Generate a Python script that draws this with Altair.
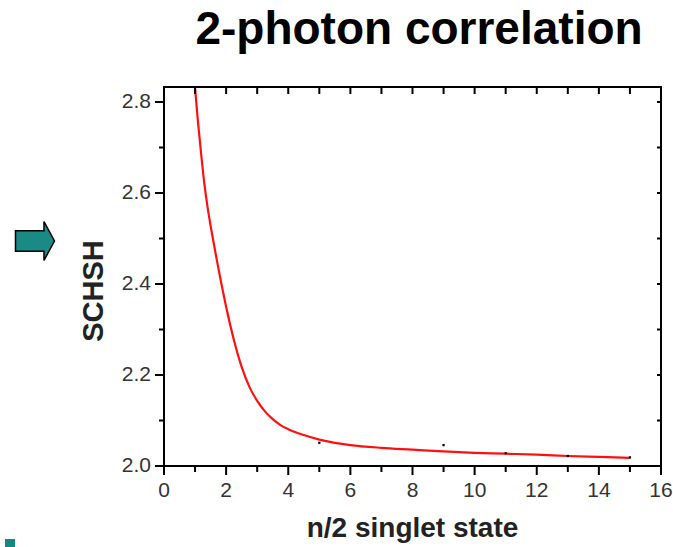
import altair as alt
import pandas as pd

# Curve values
curve_x = [1.0, 1.1, 1.2, 1.3, 1.4, 1.5, 1.6, 1.7, 1.8, 1.9, 2.0, 2.25, 2.5, 2.75,
           3.0, 3.25, 3.5, 3.75, 4.0, 4.5, 5.0, 5.5, 6, 7, 8, 9, 10, 11, 12, 13, 14, 15]
curve_y = [2.83, 2.752, 2.683, 2.62, 2.57, 2.528, 2.49, 2.453, 2.417, 2.383, 2.35, 2.277,
           2.218, 2.174, 2.143, 2.12, 2.103, 2.09, 2.081, 2.068, 2.058, 2.051, 2.046,
           2.040, 2.036, 2.032, 2.029, 2.027, 2.025, 2.022, 2.020, 2.018]

# small black data markers
dot_x = [5, 9, 11, 13, 15]
dot_y = [2.051, 2.046, 2.028, 2.022, 2.019]

# axis ticks and tick labels
x_major = [0, 2, 4, 6, 8, 10, 12, 14, 16]
x_labels = ["0", "2", "4", "6", "8", "10", "12", "14", "16"]
x_minor = [1, 3, 5, 7, 9, 11, 13, 15]
x_top = [1, 2, 3, 4, 5, 6, 7, 8, 9, 10, 11, 12, 13, 14, 15]
y_major = [2.0, 2.2, 2.4, 2.6, 2.8]
y_labels = ["2.0", "2.2", "2.4", "2.6", "2.8"]
y_minor = [2.1, 2.3, 2.5, 2.7]
y_right = [2.1, 2.2, 2.3, 2.4, 2.5, 2.6, 2.7, 2.8]

TITLE = "2-photon correlation"
X_TITLE = "n/2 singlet state"
Y_TITLE = "SCHSH"

W, H = 497, 379
FONT = "Liberation Sans"

xs = alt.Scale(domain=[0, 16], nice=False, zero=False)
ys = alt.Scale(domain=[2.0, 2.833], nice=False, zero=False)


def X(field="x"):
    return alt.X(f"{field}:Q", scale=xs, axis=None)


def Y(field="y"):
    return alt.Y(f"{field}:Q", scale=ys, axis=None)


def tick(vals, ch, center, length):
    df = pd.DataFrame({"v": vals})
    m = alt.Chart(df).mark_tick(color="black", thickness=2, size=length, opacity=1)
    if ch == "x":
        return m.encode(x=X("v"), y=alt.value(center))
    return m.encode(y=Y("v"), x=alt.value(center))


curve_df = pd.DataFrame({"x": curve_x, "y": curve_y})
dots_df = pd.DataFrame({"x": dot_x, "y": dot_y})

base = alt.Chart(curve_df).mark_line(color="#ff1010", strokeWidth=2.2,
                                     interpolate="monotone", clip=True).encode(x=X(), y=Y())

dots = alt.Chart(dots_df).mark_square(color="black", size=5, opacity=1).encode(x=X(), y=Y())

ticks = [
    tick(x_major, "x", H + 4.5, 9),
    tick(x_minor, "x", H + 3, 6),
    tick(x_top, "x", 3.5, 7),
    tick(y_major, "y", -4.5, 9),
    tick(y_minor, "y", -2.5, 5),
    tick(y_right, "y", W - 2, 4),
]

xlab = alt.Chart(pd.DataFrame({"v": x_major, "t": x_labels})).mark_text(
    fontSize=21, font=FONT, color="#333", align="center", baseline="top").encode(
    x=X("v"), y=alt.value(H + 14), text="t:N")
ylab = alt.Chart(pd.DataFrame({"v": y_major, "t": y_labels})).mark_text(
    fontSize=21, font=FONT, color="#333", align="right", baseline="middle").encode(
    y=Y("v"), x=alt.value(-13), text="t:N")

one = pd.DataFrame({"a": [0]})
xtitle = alt.Chart(one).mark_text(text=X_TITLE, fontSize=28, fontWeight="bold", font=FONT,
                                  color="#222", align="center", baseline="alphabetic").encode(
    x=alt.value(W / 2), y=alt.value(H + 71))
ytitle = alt.Chart(one).mark_text(text=Y_TITLE, fontSize=29, fontWeight="bold", font=FONT,
                                  color="#222", align="center", baseline="alphabetic",
                                  angle=270).encode(
    x=alt.value(-61), y=alt.value(204))

arrow_path = "M-1,-0.52 L0.46,-0.52 L0.46,-1 L1,0 L0.46,1 L0.46,0.52 L-1,0.52 Z"
arrow = alt.Chart(one).mark_point(shape=arrow_path, size=1521, filled=True,
                                  fill="#198a84", stroke="black", strokeWidth=1.5,
                                  opacity=1).encode(
    x=alt.value(-129), y=alt.value(154))
square = alt.Chart(one).mark_rect(color="#14897f").encode(
    x=alt.value(-159), x2=alt.value(-149), y=alt.value(452), y2=alt.value(460))
title = alt.Chart(one).mark_text(text=TITLE, fontSize=46,
                                 fontWeight="bold", font=FONT, color="black",
                                 align="center", baseline="alphabetic").encode(
    x=alt.value(255), y=alt.value(-43))

chart = alt.layer(base, dots, *ticks, xlab, ylab, xtitle, ytitle,
                  arrow, square, title).properties(
    width=W, height=H,
    background="white",
    autosize=alt.AutoSizeParams(type="none"),
    padding={"left": 164, "top": 87, "right": 12, "bottom": 81},
).configure_view(stroke="black", strokeWidth=2)

chart.save("out.html", embed_options={"renderer": "svg", "actions": False})
